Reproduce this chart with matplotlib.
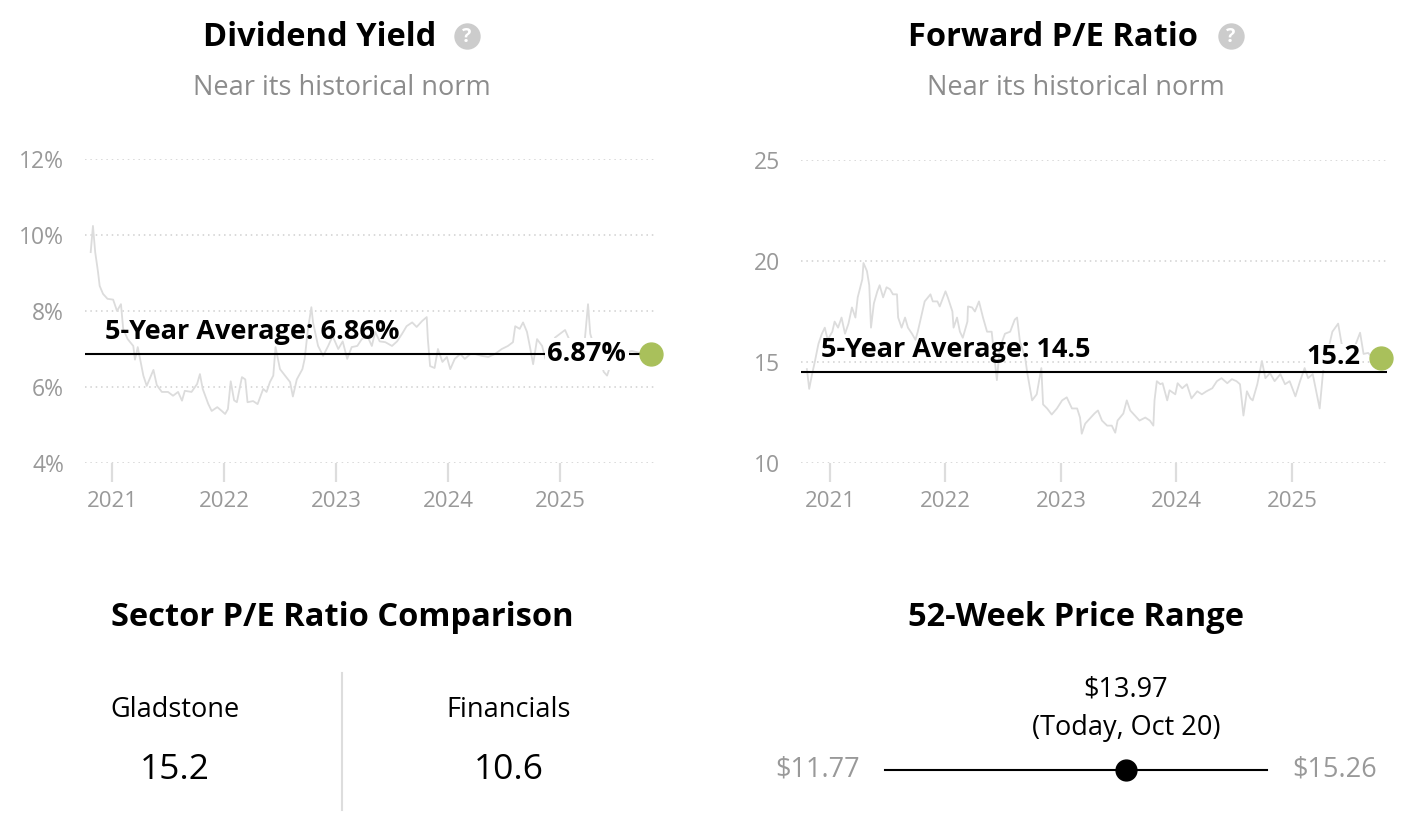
import matplotlib
matplotlib.use("Agg")
import matplotlib.pyplot as plt

plt.rcParams['font.family'] = ['Open Sans', 'DejaVu Sans']

# ---------------- data ----------------
div_years = [2020.81, 2020.83, 2020.85, 2020.875, 2020.89, 2020.92, 2020.96, 2021.01, 2021.045, 2021.08,
             2021.10, 2021.14, 2021.19, 2021.205, 2021.23, 2021.28, 2021.31, 2021.37, 2021.40, 2021.445,
             2021.50, 2021.545, 2021.59, 2021.625, 2021.65, 2021.71, 2021.76, 2021.785, 2021.81, 2021.86,
             2021.89, 2021.94, 2021.98, 2022.01, 2022.035, 2022.06, 2022.09, 2022.115, 2022.16, 2022.19,
             2022.21, 2022.26, 2022.30, 2022.35, 2022.38, 2022.41, 2022.44, 2022.46, 2022.50, 2022.545,
             2022.59, 2022.615, 2022.65, 2022.70, 2022.72, 2022.75, 2022.78, 2022.795, 2022.84, 2022.885,
             2022.93, 2022.97, 2023.02, 2023.06, 2023.10, 2023.14, 2023.19, 2023.23, 2023.28, 2023.32,
             2023.35, 2023.39, 2023.44, 2023.50, 2023.545, 2023.59, 2023.63, 2023.68, 2023.72, 2023.77,
             2023.81, 2023.82, 2023.84, 2023.88, 2023.91, 2023.95, 2023.99, 2024.02, 2024.06, 2024.11,
             2024.15, 2024.20, 2024.24, 2024.30, 2024.36, 2024.42, 2024.48, 2024.535, 2024.58, 2024.60,
             2024.64, 2024.67, 2024.705, 2024.73, 2024.76, 2024.795, 2024.84, 2024.87, 2024.91, 2024.955,
             2025.00, 2025.045, 2025.09, 2025.13, 2025.18, 2025.22, 2025.25, 2025.27, 2025.31, 2025.36,
             2025.39, 2025.42, 2025.46, 2025.52, 2025.58, 2025.64, 2025.71, 2025.78]
div_values = [9.55, 10.24, 9.55, 9.03, 8.66, 8.45, 8.32, 8.30, 8.00, 8.18,
              7.53, 7.26, 7.08, 6.72, 7.05, 6.30, 6.03, 6.45, 6.05, 5.87,
              5.87, 5.77, 5.87, 5.64, 5.90, 5.87, 6.08, 6.34, 5.95, 5.55,
              5.37, 5.47, 5.37, 5.29, 5.42, 6.15, 5.65, 5.60, 6.26, 6.20,
              5.60, 5.63, 5.55, 5.95, 5.87, 6.13, 6.30, 7.05, 6.47, 6.30,
              6.13, 5.75, 6.20, 6.47, 6.74, 7.53, 8.10, 7.70, 7.08, 6.82,
              7.08, 7.34, 7.00, 7.20, 6.74, 7.05, 7.08, 7.26, 7.34, 7.08,
              7.45, 7.20, 7.18, 7.08, 7.20, 7.40, 7.60, 7.70, 7.58, 7.74,
              7.84, 7.26, 6.55, 6.50, 7.00, 6.66, 6.79, 6.47, 6.74, 6.87,
              6.74, 6.87, 6.87, 6.82, 6.79, 6.87, 7.00, 7.08, 7.18, 7.60,
              7.53, 7.70, 7.45, 7.08, 6.60, 7.26, 7.08, 6.74, 6.95, 7.30,
              7.40, 7.50, 7.20, 7.00, 7.10, 7.20, 8.18, 7.40, 7.00, 6.70,
              6.40, 6.30, 6.66, 6.80, 6.90, 6.95, 6.90, 6.87]
div_avg = 6.86
div_current = 6.87

pe_years = [2020.80, 2020.82, 2020.845, 2020.87, 2020.90, 2020.93, 2020.955, 2020.98, 2021.02, 2021.04,
            2021.07, 2021.10, 2021.13, 2021.16, 2021.19, 2021.22, 2021.24, 2021.28, 2021.29, 2021.32,
            2021.34, 2021.355, 2021.38, 2021.41, 2021.43, 2021.46, 2021.49, 2021.52, 2021.545, 2021.58,
            2021.59, 2021.62, 2021.65, 2021.675, 2021.71, 2021.74, 2021.76, 2021.80, 2021.82, 2021.87,
            2021.89, 2021.93, 2021.95, 2022.00, 2022.02, 2022.06, 2022.07, 2022.10, 2022.125, 2022.15,
            2022.19, 2022.195, 2022.23, 2022.255, 2022.29, 2022.325, 2022.36, 2022.40, 2022.445, 2022.47,
            2022.515, 2022.56, 2022.60, 2022.62, 2022.645, 2022.69, 2022.71, 2022.75, 2022.79, 2022.83,
            2022.845, 2022.88, 2022.92, 2022.965, 2023.01, 2023.05, 2023.095, 2023.14, 2023.165, 2023.18,
            2023.21, 2023.25, 2023.29, 2023.32, 2023.355, 2023.40, 2023.44, 2023.47, 2023.49, 2023.54,
            2023.57, 2023.60, 2023.64, 2023.68, 2023.73, 2023.77, 2023.80, 2023.81, 2023.83, 2023.86,
            2023.88, 2023.92, 2023.94, 2023.99, 2024.01, 2024.05, 2024.09, 2024.13, 2024.18, 2024.22,
            2024.26, 2024.31, 2024.35, 2024.39, 2024.44, 2024.48, 2024.52, 2024.55, 2024.58, 2024.61,
            2024.64, 2024.66, 2024.70, 2024.74, 2024.77, 2024.81, 2024.85, 2024.90, 2024.94, 2024.98,
            2025.03, 2025.07, 2025.11, 2025.14, 2025.18, 2025.24, 2025.27, 2025.35, 2025.40, 2025.43,
            2025.48, 2025.53, 2025.59, 2025.62, 2025.66, 2025.70, 2025.77]
pe_values = [14.65, 13.67, 14.4, 15.05, 15.9, 16.4, 16.7, 16.1, 16.5, 17.0,
             16.7, 17.2, 16.4, 16.9, 17.7, 17.2, 18.2, 19.1, 19.9, 19.5,
             18.8, 16.7, 17.9, 18.5, 18.8, 18.2, 18.7, 18.6, 18.35, 18.35,
             17.2, 16.7, 17.2, 16.7, 16.4, 16.1, 16.5, 17.5, 18.0, 18.35,
             18.0, 18.0, 17.75, 18.5, 18.2, 17.5, 16.7, 17.2, 16.5, 16.2,
             17.0, 17.75, 17.7, 17.5, 18.0, 17.2, 16.5, 16.5, 14.1, 15.7,
             16.4, 16.5, 17.1, 17.2, 16.0, 15.2, 14.4, 13.1, 13.4, 14.7,
             12.9, 12.7, 12.4, 12.7, 13.1, 13.25, 12.7, 12.7, 12.25, 11.45,
             11.95, 12.2, 12.45, 12.6, 12.1, 11.85, 11.85, 11.5, 12.1, 12.45,
             13.1, 12.6, 12.35, 12.1, 12.25, 12.1, 11.85, 13.1, 14.05, 13.9,
             13.95, 13.1, 13.6, 13.4, 13.95, 13.7, 13.9, 13.2, 13.55, 13.4,
             13.55, 13.7, 14.05, 14.2, 13.95, 14.15, 14.05, 13.9, 12.35, 13.55,
             13.2, 13.1, 13.9, 15.05, 14.2, 14.45, 14.05, 14.4, 13.9, 14.05,
             13.3, 14.05, 14.7, 14.2, 14.4, 12.7, 14.55, 16.5, 16.9, 15.9,
             15.55, 15.55, 16.45, 15.4, 15.45, 15.2, 15.2]
pe_avg = 14.5
pe_current = 15.2

year_ticks = [2021, 2022, 2023, 2024, 2025]
div_yticks = [4, 6, 8, 10, 12]
pe_yticks = [10, 15, 20, 25]

sector_names = ['Gladstone', 'Financials']
sector_pe = [15.2, 10.6]

price_low = 11.77
price_high = 15.26
price_now = 13.97
price_date = 'Oct 20'

# ---------------- styling ----------------
W, H = 1424, 826
GRAY_TXT = '#999999'
SUB_TXT = '#8c8c8c'
LINE_C = '#dcdcdc'
GRID_C = '#d0d0d0'
GREEN = '#a9c05b'
TITLE_FS = 23.5
LABEL_FS = 19.5

fig = plt.figure(figsize=(W / 100, H / 100), dpi=100)


def fx(x):
    return x / W


def fy(y):
    return 1 - y / H


def style_axes(ax, yticks, fmt):
    for s in ax.spines.values():
        s.set_visible(False)
    ax.set_yticks(yticks)
    ax.set_yticklabels([fmt(v) for v in yticks])
    ax.set_xticks(year_ticks)
    ax.set_xticklabels([str(y) for y in year_ticks])
    ax.tick_params(axis='y', length=0, pad=15, labelsize=16.5, labelcolor=GRAY_TXT)
    ax.tick_params(axis='x', length=14, width=1.6, color='#dddddd', pad=6,
                   labelsize=16, labelcolor=GRAY_TXT)
    ax.grid(axis='y', color=GRID_C, linestyle=(0, (1, 2.5)), linewidth=1.1)
    ax.set_axisbelow(True)


# ---- Dividend Yield chart ----
ax1 = fig.add_axes([fx(85), fy(463), fx(570), 304 / H])
ax1.set_xlim(2020.759, 2025.848)
ax1.set_ylim(4, 12)
style_axes(ax1, div_yticks, lambda v: f'{v}%')
ax1.plot(div_years, div_values, color=LINE_C, lw=1.3, zorder=2)
ax1.axhline(div_avg, color='black', lw=1.5, zorder=3)
ax1.text(2020.94, div_avg + 0.25, f'5-Year Average: {div_avg:.2f}%', fontsize=LABEL_FS,
         fontweight='bold', ha='left', va='bottom', zorder=5)
ax1.text(2025.59, div_current, f'{div_current:.2f}%', fontsize=LABEL_FS, fontweight='bold',
         ha='right', va='center', zorder=5,
         bbox=dict(facecolor='white', edgecolor='none', pad=2))
ax1.plot([div_years[-1] + 0.03], [div_current], 'o', color=GREEN, ms=16.5, zorder=6,
         clip_on=False)

# ---- Forward P/E chart ----
ax2 = fig.add_axes([fx(801), fy(463), fx(586), 303 / H])
ax2.set_xlim(2020.749, 2025.823)
ax2.set_ylim(10, 25)
style_axes(ax2, pe_yticks, lambda v: f'{v}')
ax2.plot(pe_years, pe_values, color=LINE_C, lw=1.3, zorder=2)
ax2.axhline(pe_avg, color='black', lw=1.5, zorder=4)
ax2.text(2020.92, pe_avg + 0.45, f'5-Year Average: {pe_avg}', fontsize=LABEL_FS,
         fontweight='bold', ha='left', va='bottom', zorder=5)
ax2.text(2025.595, pe_current + 0.05, f'{pe_current}', fontsize=LABEL_FS, fontweight='bold',
         ha='right', va='center', zorder=3,
         bbox=dict(facecolor='white', edgecolor='none', pad=0))
ax2.plot([pe_years[-1]], [pe_current], 'o', color=GREEN, ms=16.5, zorder=6, clip_on=False)


# ---- titles ----
def title_with_icon(cx, text, icon_x):
    fig.text(fx(cx), fy(37), text, fontsize=TITLE_FS, fontweight='bold', ha='center',
             va='center')
    fig.add_artist(plt.Line2D([fx(icon_x)], [fy(36)], marker='o', ms=19, color='#cccccc',
                              markeredgewidth=0, transform=fig.transFigure))
    fig.text(fx(icon_x), fy(36.5), '?', fontsize=14, fontweight='bold', color='white',
             ha='center', va='center')


title_with_icon(320, 'Dividend Yield', 467)
title_with_icon(1053, 'Forward P/E Ratio', 1231)
fig.text(fx(342), fy(88), 'Near its historical norm', fontsize=19.5, color=SUB_TXT,
         ha='center', va='center')
fig.text(fx(1076), fy(88), 'Near its historical norm', fontsize=19.5, color=SUB_TXT,
         ha='center', va='center')

# ---- Sector P/E comparison ----
fig.text(fx(342), fy(617), 'Sector P/E Ratio Comparison', fontsize=TITLE_FS,
         fontweight='bold', ha='center', va='center')
for cx, name, val in zip([175, 509], sector_names, sector_pe):
    fig.text(fx(cx), fy(710), name, fontsize=19.5, ha='center', va='center')
    fig.text(fx(cx), fy(770), f'{val}', fontsize=25.5, ha='center', va='center')
fig.add_artist(plt.Line2D([fx(342), fx(342)], [fy(673), fy(810)], color='#dddddd', lw=1.5))

# ---- 52-week range ----
fig.text(fx(1076), fy(617), '52-Week Price Range', fontsize=TITLE_FS, fontweight='bold',
         ha='center', va='center')
ax3 = fig.add_axes([fx(885), fy(790), fx(382), 40 / H])
ax3.set_xlim(price_low, price_high)
ax3.set_ylim(-1, 1)
ax3.axis('off')
ax3.plot([price_low, price_high], [0, 0], color='black', lw=1.5, clip_on=False)
ax3.plot([price_now], [0], 'o', color='black', ms=15, clip_on=False)
ax3.annotate(f'${price_now:.2f}', (price_now, 0), xytext=(0, 58), textcoords='offset points',
             ha='center', va='center', fontsize=19.5)
ax3.annotate(f'(Today, {price_date})', (price_now, 0), xytext=(0, 30),
             textcoords='offset points', ha='center', va='center', fontsize=19.5)
ax3.annotate(f'${price_low:.2f}', (price_low, 0), xytext=(-18, 0), textcoords='offset points',
             ha='right', va='center', fontsize=19.5, color=GRAY_TXT)
ax3.annotate(f'${price_high:.2f}', (price_high, 0), xytext=(18, 0), textcoords='offset points',
             ha='left', va='center', fontsize=19.5, color=GRAY_TXT)

fig.savefig('out.png', dpi=100, facecolor='white')
